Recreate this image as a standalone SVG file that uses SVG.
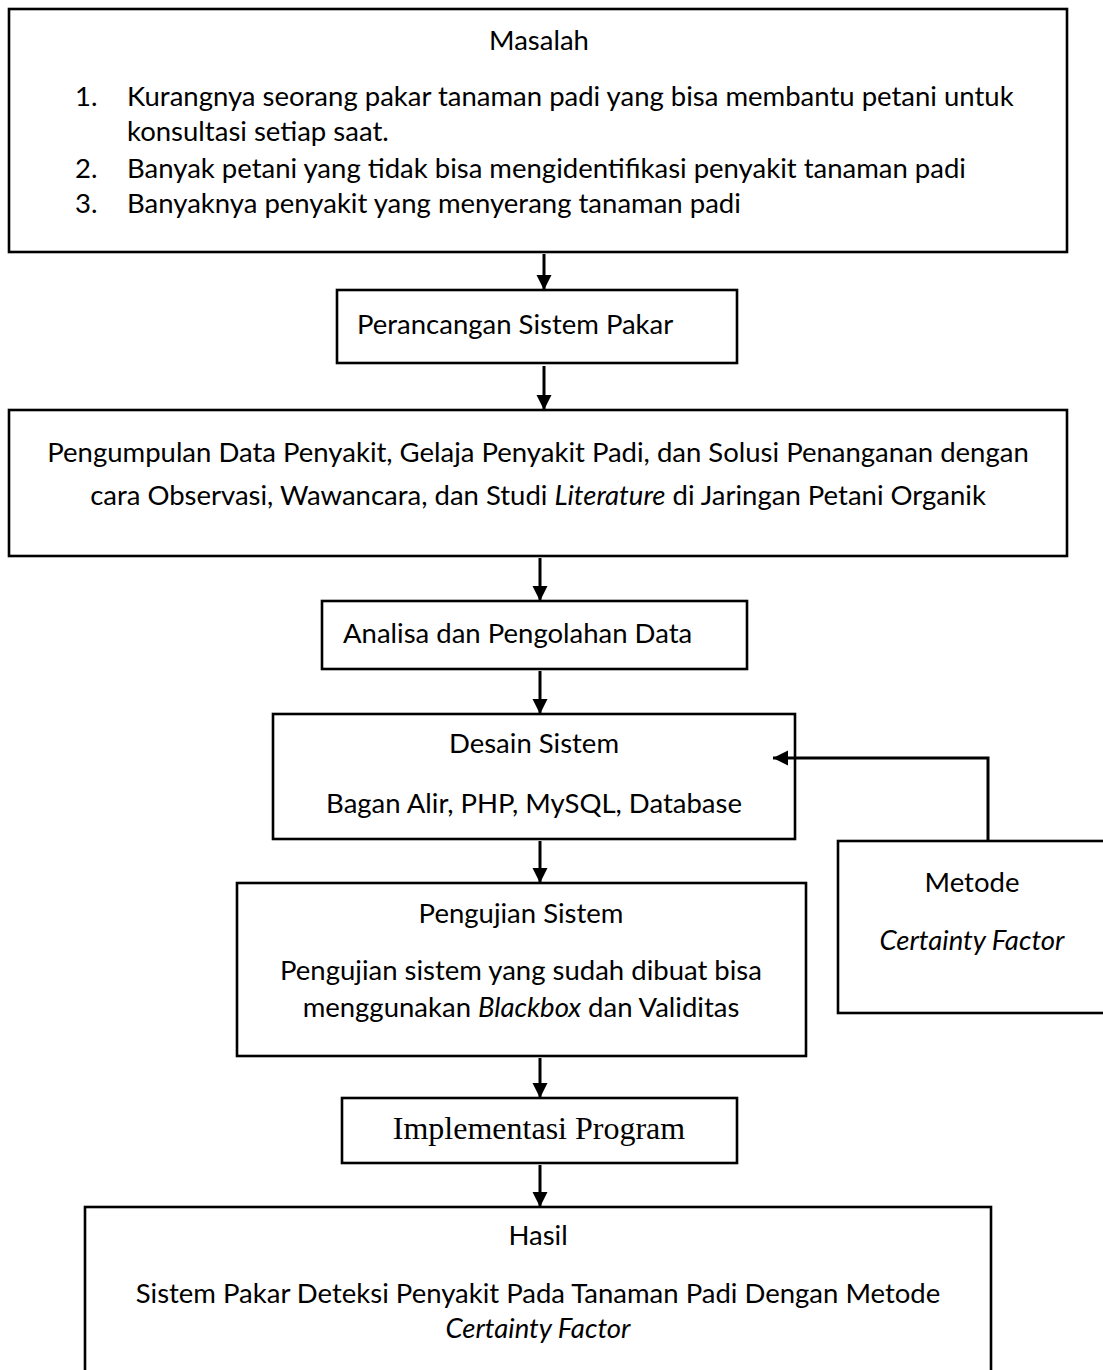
<svg xmlns="http://www.w3.org/2000/svg" width="1103" height="1370" viewBox="0 0 1103 1370">
  <defs>
    <marker id="head" markerUnits="userSpaceOnUse" markerWidth="15" markerHeight="16" refX="15" refY="8" orient="auto">
      <path d="M0,0.5 L15,8 L0,15.5 Z" fill="#000"/>
    </marker>
    <style>
      .box { fill: #fff; stroke: #000; stroke-width: 2.6; }
      .t { font-family: Lato, "Liberation Sans", sans-serif; font-size: 27.5px; fill: #000; }
      .c { text-anchor: middle; }
      .i { font-style: italic; }
      .serif { font-family: "Liberation Serif", "Times New Roman", serif; font-size: 32px; fill: #000; text-anchor: middle; }
      .link { fill: none; stroke: #000; stroke-width: 3; marker-end: url(#head); }
    </style>
  </defs>
  <rect width="1103" height="1370" fill="#fff"/>

  <g id="masalah">
    <rect class="box" x="9" y="9" width="1058" height="243"/>
    <text class="t c" x="539" y="50">Masalah</text>
    <text class="t" x="75" y="106">1.</text>
    <text class="t" x="127" y="106">Kurangnya seorang pakar tanaman padi yang bisa membantu petani untuk</text>
    <text class="t" x="127" y="141">konsultasi setiap saat.</text>
    <text class="t" x="75" y="178">2.</text>
    <text class="t" x="127" y="178">Banyak petani yang tidak bisa mengidentifikasi penyakit tanaman padi</text>
    <text class="t" x="75" y="213">3.</text>
    <text class="t" x="127" y="213">Banyaknya penyakit yang menyerang tanaman padi</text>
  </g>

  <g id="perancangan">
    <rect class="box" x="337" y="290" width="400" height="73"/>
    <text class="t" x="357" y="334">Perancangan Sistem Pakar</text>
  </g>

  <g id="pengumpulan">
    <rect class="box" x="9" y="410" width="1058" height="146"/>
    <text class="t c" x="538" y="462">Pengumpulan Data Penyakit, Gelaja Penyakit Padi, dan Solusi Penanganan dengan</text>
    <text class="t c" x="538" y="505">cara Observasi, Wawancara, dan Studi <tspan class="i">Literature</tspan> di Jaringan Petani Organik</text>
  </g>

  <g id="analisa">
    <rect class="box" x="322" y="601" width="425" height="68"/>
    <text class="t" x="343" y="643">Analisa dan Pengolahan Data</text>
  </g>

  <g id="desain">
    <rect class="box" x="273" y="714" width="522" height="125"/>
    <text class="t c" x="534" y="753">Desain Sistem</text>
    <text class="t c" x="534" y="813">Bagan Alir, PHP, MySQL, Database</text>
  </g>

  <g id="pengujian">
    <rect class="box" x="237" y="883" width="569" height="173"/>
    <text class="t c" x="521" y="923">Pengujian Sistem</text>
    <text class="t c" x="521" y="980">Pengujian sistem yang sudah dibuat bisa</text>
    <text class="t c" x="521" y="1017">menggunakan <tspan class="i">Blackbox</tspan> dan Validitas</text>
  </g>

  <g id="metode">
    <rect class="box" x="838" y="841" width="272" height="172"/>
    <text class="t c" x="972" y="892">Metode</text>
    <text class="t c i" x="972" y="950">Certainty Factor</text>
  </g>

  <g id="implementasi">
    <rect class="box" x="342" y="1098" width="395" height="65"/>
    <text class="serif" x="539" y="1139">Implementasi Program</text>
  </g>

  <g id="hasil">
    <rect class="box" x="85" y="1207" width="906" height="200"/>
    <text class="t c" x="538" y="1245">Hasil</text>
    <text class="t c" x="538" y="1303">Sistem Pakar Deteksi Penyakit Pada Tanaman Padi Dengan Metode</text>
    <text class="t c i" x="538" y="1338">Certainty Factor</text>
  </g>

  <g id="connectors">
    <line class="link" x1="544" y1="254" x2="544" y2="290"/>
    <line class="link" x1="544" y1="366" x2="544" y2="410"/>
    <line class="link" x1="540" y1="558" x2="540" y2="601"/>
    <line class="link" x1="540" y1="671" x2="540" y2="714"/>
    <line class="link" x1="540" y1="841" x2="540" y2="883"/>
    <line class="link" x1="540" y1="1058" x2="540" y2="1098"/>
    <line class="link" x1="540" y1="1165" x2="540" y2="1207"/>
    <path class="link" d="M988,842 V758 H773"/>
  </g>
</svg>
